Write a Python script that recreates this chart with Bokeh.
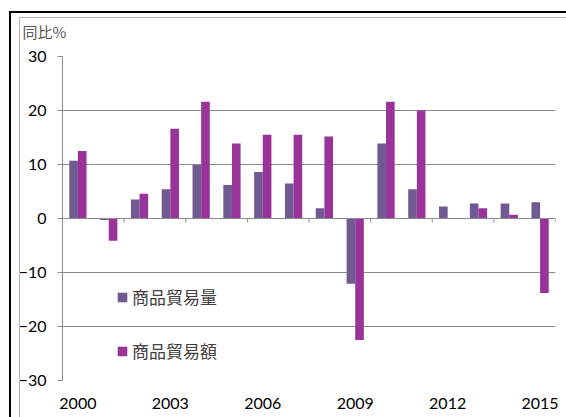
import numpy as np
from bokeh.plotting import figure
from bokeh.models import (ColumnDataSource, Range1d, FixedTicker, Span, Legend, LegendItem,
                          InlineStyleSheet)
from bokeh.transform import dodge
from bokeh.embed import file_html
from bokeh.resources import INLINE

years = [2000, 2001, 2002, 2003, 2004, 2005, 2006, 2007,
         2008, 2009, 2010, 2011, 2012, 2013, 2014, 2015]
volume = [10.7, -0.3, 3.5, 5.4, 9.9, 6.2, 8.6, 6.5,
          1.9, -12.1, 13.9, 5.4, 2.2, 2.8, 2.8, 3.0]
value_ = [12.5, -4.1, 4.6, 16.6, 21.6, 13.9, 15.5, 15.5,
          15.2, -22.5, 21.6, 20.0, 0.1, 1.9, 0.7, -13.8]
y_ticks = [-30, -20, -10, 0, 10, 20, 30]
series_names = ["商品貿易量", "商品貿易額"]
unit_label = "同比%"

C_VOL = "#6F5A92"
C_VAL = "#993399"
GRID = "#8C8C8C"
FONT = "Lato"
CJK = "Noto Sans CJK JP"

n = len(years)
src = ColumnDataSource(dict(x=np.arange(n) + 0.5, vol=volume, val=value_))

p = figure(width=566, height=417, output_backend="svg", toolbar_location=None,
           x_range=Range1d(0, n), y_range=Range1d(-30, 30),
           min_border_left=62, min_border_right=11, min_border_top=56, min_border_bottom=37)
p.outline_line_color = None
p.background_fill_color = "white"
p.border_fill_color = "white"

bw = 0.28
r1 = p.vbar(x=dodge("x", -bw / 2, range=p.x_range), top="vol", bottom=0, width=bw,
            source=src, fill_color=C_VOL, line_color=None)
r2 = p.vbar(x=dodge("x", bw / 2, range=p.x_range), top="val", bottom=0, width=bw,
            source=src, fill_color=C_VAL, line_color=None)

# axes
p.yaxis.ticker = FixedTicker(ticks=y_ticks)
p.yaxis.axis_line_color = GRID
p.yaxis.major_tick_line_color = GRID
p.yaxis.major_tick_in = 0
p.yaxis.major_tick_out = 5
p.yaxis.minor_tick_line_color = None
p.yaxis.major_label_standoff = 11
p.yaxis.major_label_text_font = FONT
p.yaxis.major_label_text_font_size = "16px"
p.yaxis.major_label_text_color = "black"

label_idx = list(range(0, n, 3))
p.xaxis.ticker = FixedTicker(ticks=[i + 0.5 for i in label_idx])
p.xaxis.major_label_overrides = {i + 0.5: str(years[i]) for i in label_idx}
p.xaxis.axis_line_color = None
p.xaxis.major_tick_line_color = None
p.xaxis.minor_tick_line_color = None
p.xaxis.major_tick_out = 0
p.xaxis.major_tick_in = 0
p.xaxis.major_label_standoff = 17
p.xaxis.major_label_text_font = FONT
p.xaxis.major_label_text_font_size = "16px"
p.xaxis.major_label_text_color = "black"

p.xgrid.grid_line_color = None
p.ygrid.ticker = FixedTicker(ticks=y_ticks)
p.ygrid.grid_line_color = GRID
p.ygrid.grid_line_width = 1

# zero line with tick marks every two categories
p.add_layout(Span(location=0, dimension="width", line_color=GRID, line_width=1))
tick_len = 4 * 60 / 324
tx = list(range(2, n + 1, 2))
p.segment(x0=tx, x1=tx, y0=[0] * len(tx), y1=[-tick_len] * len(tx), line_color=GRID, line_width=1)

# legend
legend = Legend(items=[LegendItem(label=series_names[0], renderers=[r1]),
                       LegendItem(label=series_names[1], renderers=[r2])],
                location=(54, 17), orientation="vertical")
legend.background_fill_alpha = 0
legend.border_line_color = None
legend.padding = 0
legend.margin = 0
legend.spacing = 29
legend.glyph_width = 12
legend.glyph_height = 12
legend.label_height = 20
legend.label_standoff = 4
legend.label_text_font = CJK
legend.label_text_font_size = "17px"
legend.label_text_color = "#404040"
p.add_layout(legend)

# unit label as title
p.title.text = unit_label
p.title.align = "left"
p.title.offset = -40
p.title.standoff = 29
p.title.text_font = CJK
p.title.text_font_size = "15px"
p.title.text_font_style = "normal"
p.title.text_color = "#595959"

# picture frames (black outer, grey inner), top and left edges
css = """
:host::after { content: ""; position: absolute; left: 9px; top: 11px; width: 557px; height: 406px;
  border-left: 2px solid black; border-top: 2px solid black; box-sizing: border-box;
  pointer-events: none; z-index: 100; }
:host::before { content: ""; position: absolute; left: 19px; top: 17px; width: 547px; height: 400px;
  border-left: 1px solid #B4B4B4; border-top: 1px solid #B4B4B4; box-sizing: border-box;
  pointer-events: none; z-index: 100; }
"""
p.stylesheets = [InlineStyleSheet(css=css)]

open("out.html", "w").write(file_html(p, INLINE))
